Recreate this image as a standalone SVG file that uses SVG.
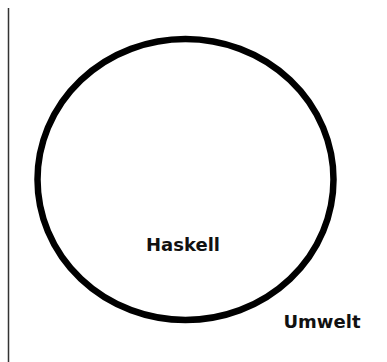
<svg xmlns="http://www.w3.org/2000/svg" width="387" height="362" viewBox="0 0 387 362">
<style>
.lbl{font-family:"DejaVu Sans",sans-serif;font-weight:bold;font-size:18px;fill:#111;text-anchor:middle}
</style>
<rect width="387" height="362" fill="#fff"/>
<line x1="8.5" y1="8" x2="8.5" y2="362" stroke="#333" stroke-width="1.5"/>
<g id="haskell">
<ellipse cx="185.5" cy="179.5" rx="148" ry="140.5" fill="none" stroke="#000" stroke-width="6.5"/>
<text class="lbl" x="183" y="251">Haskell</text>
</g>
<g id="umwelt">
<text class="lbl" x="322" y="327.5">Umwelt</text>
</g>
<g id="connectors"/>
</svg>
